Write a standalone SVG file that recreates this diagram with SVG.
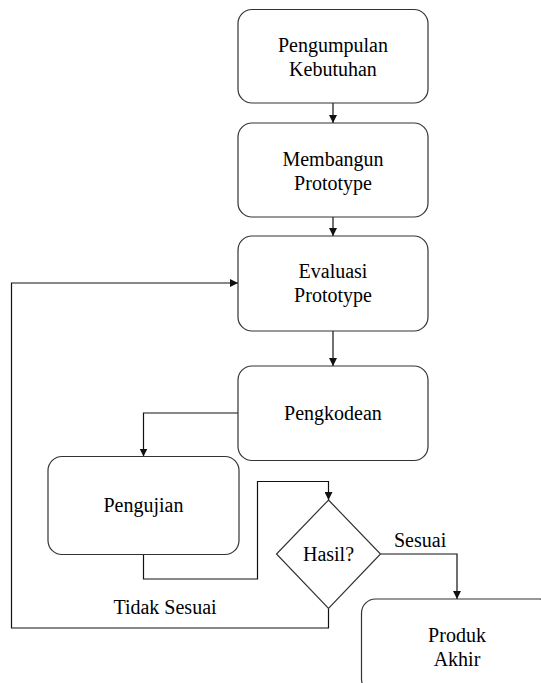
<svg xmlns="http://www.w3.org/2000/svg" width="541" height="683" viewBox="0 0 541 683">
<defs>
<marker id="ah" viewBox="0 0 10 10" refX="10" refY="5" markerWidth="8" markerHeight="8" markerUnits="userSpaceOnUse" orient="auto">
<path d="M0,0 L10,5 L0,10 Z" fill="#111"/>
</marker>
</defs>
<rect width="541" height="683" fill="#fff"/>
<g id="connectors" fill="none" stroke="#111" stroke-width="1.2">
<path d="M333,103 V123" marker-end="url(#ah)"/>
<path d="M333,217 V236" marker-end="url(#ah)"/>
<path d="M333,331 V366" marker-end="url(#ah)"/>
<path d="M238,413 H143.5 V456.5" marker-end="url(#ah)"/>
<path d="M143.5,554.5 V579 H257.5 V481.5 H328.5 V500" marker-end="url(#ah)"/>
<path d="M380.5,554 H457 V599" marker-end="url(#ah)"/>
<path d="M328.5,608.5 V628 H11.5 V283 H238" marker-end="url(#ah)"/>
</g>
<g id="n1"><rect fill="#fff" stroke="#333" stroke-width="1.2" x="238" y="9.5" width="190" height="93.5" rx="14"/><text x="333" y="52" text-anchor="middle" font-family="Liberation Serif" font-size="20">Pengumpulan</text><text x="333" y="76" text-anchor="middle" font-family="Liberation Serif" font-size="20">Kebutuhan</text></g>
<g id="n2"><rect fill="#fff" stroke="#333" stroke-width="1.2" x="238" y="123" width="190" height="94" rx="14"/><text x="333" y="165.5" text-anchor="middle" font-family="Liberation Serif" font-size="20">Membangun</text><text x="333" y="189.5" text-anchor="middle" font-family="Liberation Serif" font-size="20">Prototype</text></g>
<g id="n3"><rect fill="#fff" stroke="#333" stroke-width="1.2" x="238" y="236" width="190" height="95" rx="14"/><text x="333" y="278" text-anchor="middle" font-family="Liberation Serif" font-size="20">Evaluasi</text><text x="333" y="302" text-anchor="middle" font-family="Liberation Serif" font-size="20">Prototype</text></g>
<g id="n4"><rect fill="#fff" stroke="#333" stroke-width="1.2" x="238" y="366" width="190" height="94.5" rx="14"/><text x="333" y="420" text-anchor="middle" font-family="Liberation Serif" font-size="20">Pengkodean</text></g>
<g id="n5"><rect fill="#fff" stroke="#333" stroke-width="1.2" x="48" y="456.5" width="191" height="98" rx="14"/><text x="143.5" y="512" text-anchor="middle" font-family="Liberation Serif" font-size="20">Pengujian</text></g>
<g id="n6"><path fill="#fff" stroke="#333" stroke-width="1.2" d="M328.5,500 L380.5,554 L328.5,608.5 L276.5,554 Z"/><text x="328.5" y="561" text-anchor="middle" font-family="Liberation Serif" font-size="20">Hasil?</text></g>
<g id="n7"><rect fill="#fff" stroke="#333" stroke-width="1.2" x="361.5" y="599" width="192" height="94" rx="14"/><text x="457" y="642" text-anchor="middle" font-family="Liberation Serif" font-size="20">Produk</text><text x="457" y="666" text-anchor="middle" font-family="Liberation Serif" font-size="20">Akhir</text></g>
<g id="labels"><text x="394" y="547" font-family="Liberation Serif" font-size="20">Sesuai</text><text x="165" y="614" text-anchor="middle" font-family="Liberation Serif" font-size="20">Tidak Sesuai</text></g>
</svg>
